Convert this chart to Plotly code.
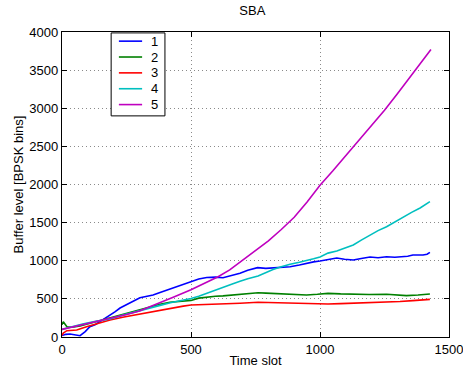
import plotly.graph_objects as go

# Buffer level per user over time (SBA scheduler)
t1 = [0, 15, 31, 50, 70, 90, 108, 130, 147, 165, 186, 205, 225, 245, 264, 285, 302, 330, 353, 380, 406, 430, 457, 500, 530, 561, 595, 624, 660, 690, 720, 758, 790, 818, 850, 884, 920, 948, 975, 1000, 1031, 1065, 1095, 1129, 1160, 1194, 1225, 1258, 1290, 1322, 1340, 1360, 1380, 1399, 1415, 1426]
y1 = [20, 35, 40, 25, 17, 70, 135, 165, 200, 240, 290, 330, 380, 415, 445, 485, 515, 535, 550, 585, 616, 640, 669, 730, 760, 780, 785, 778, 805, 837, 875, 910, 900, 905, 915, 922, 945, 970, 985, 997, 1020, 1036, 1020, 1010, 1030, 1049, 1040, 1053, 1045, 1053, 1060, 1075, 1070, 1075, 1085, 1110]

t2 = [0, 5, 19, 40, 70, 120, 186, 225, 264, 300, 340, 380, 418, 460, 500, 530, 561, 595, 624, 660, 690, 720, 760, 790, 818, 850, 884, 920, 948, 990, 1031, 1080, 1129, 1190, 1258, 1300, 1335, 1380, 1426]
y2 = [160, 200, 135, 130, 144, 190, 250, 290, 332, 365, 398, 430, 455, 470, 480, 510, 525, 535, 540, 550, 564, 572, 581, 576, 572, 566, 560, 555, 551, 560, 572, 565, 560, 558, 560, 552, 542, 550, 564]

t3 = [0, 5, 19, 57, 95, 140, 186, 240, 302, 360, 418, 470, 500, 570, 624, 690, 760, 820, 884, 950, 1000, 1031, 1080, 1129, 1190, 1258, 1310, 1360, 1400, 1426]
y3 = [20, 52, 83, 92, 135, 180, 223, 262, 302, 340, 380, 405, 420, 425, 433, 442, 455, 448, 442, 436, 433, 433, 438, 442, 448, 455, 465, 477, 486, 494]

t4 = [0, 31, 80, 130, 186, 240, 302, 340, 380, 420, 457, 500, 530, 561, 594, 624, 660, 690, 720, 760, 790, 818, 850, 884, 920, 948, 975, 1000, 1031, 1065, 1095, 1129, 1160, 1194, 1225, 1258, 1290, 1322, 1355, 1388, 1410, 1426]
y4 = [100, 131, 170, 205, 236, 290, 341, 380, 415, 450, 475, 505, 535, 575, 615, 655, 695, 730, 765, 800, 845, 885, 920, 955, 980, 1000, 1025, 1049, 1100, 1128, 1165, 1207, 1270, 1338, 1395, 1447, 1510, 1578, 1635, 1692, 1735, 1775]

t5 = [0, 50, 100, 150, 200, 250, 300, 367, 431, 500, 561, 605, 650, 700, 750, 800, 850, 900, 950, 1000, 1050, 1100, 1150, 1200, 1250, 1300, 1350, 1400, 1430]
y5 = [100, 140, 175, 210, 250, 295, 341, 430, 520, 620, 720, 790, 880, 1010, 1130, 1260, 1410, 1570, 1770, 1990, 2180, 2380, 2575, 2770, 2975, 3190, 3415, 3640, 3770]

names = ["1", "2", "3", "4", "5"]
colors = ["#0000ff", "#008000", "#ff0000", "#00bfbf", "#bf00bf"]
series = [(t1, y1), (t2, y2), (t3, y3), (t4, y4), (t5, y5)]

FAMILY = "Liberation Sans, Arial, sans-serif"
font = dict(family=FAMILY, size=13, color="black")

fig = go.Figure()
for (t, y), n, c in zip(series, names, colors):
    fig.add_trace(go.Scatter(x=t, y=y, mode="lines", name=n, showlegend=False,
                             line=dict(color=c, width=1.6)))

# Boxed legend in the upper-left of the axes (axes-domain coordinates)
box_x0, box_x1 = 0.127, 0.266
box_y0, box_y1 = 0.725, 0.997
row_top, row_step = 0.97, 0.052
fig.add_shape(type="rect", xref="x domain", yref="y domain",
              x0=box_x0, x1=box_x1, y0=box_y0, y1=box_y1,
              line=dict(color="black", width=1), fillcolor="white", layer="above")
for i, (n, c) in enumerate(zip(names, colors)):
    yy = row_top - i * row_step
    fig.add_shape(type="line", xref="x domain", yref="y domain",
                  x0=0.147, x1=0.207, y0=yy, y1=yy,
                  line=dict(color=c, width=1.6), layer="above")
    fig.add_annotation(xref="x domain", yref="y domain", x=0.225, y=yy,
                       text=n, showarrow=False, xanchor="left", yanchor="middle",
                       font=font)

axis_common = dict(
    showline=True, linecolor="black", linewidth=1.3, mirror="ticks",
    ticks="inside", ticklen=5, tickcolor="black", tickwidth=1,
    showgrid=True, gridcolor="#8a8a8a", griddash="1px,3px", gridwidth=1,
    zeroline=False, tickfont=font, automargin=False,
    ticklabeloverflow="allow",
)

fig.update_layout(
    width=463, height=373,
    margin=dict(l=62, r=14, t=32, b=36),
    paper_bgcolor="white", plot_bgcolor="white",
    font=font,
    title=dict(text="SBA", x=0.545, xanchor="center", y=0.985, yanchor="top",
               font=dict(family=FAMILY, size=13)),
    xaxis=dict(range=[0, 1500], tickvals=[0, 500, 1000, 1500],
               title=dict(text="Time slot", standoff=0, font=font), **axis_common),
    yaxis=dict(range=[0, 4000], tickvals=[0, 500, 1000, 1500, 2000, 2500, 3000, 3500, 4000],
               title=dict(text="Buffer level [BPSK bins]", standoff=2, font=font), **axis_common),
    showlegend=False,
)

fig.write_html("out.html")
